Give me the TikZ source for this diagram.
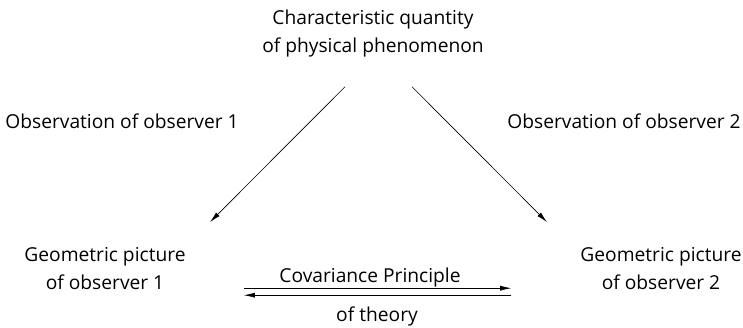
\documentclass[tikz,border=0pt]{standalone}
\usepackage{fontspec}
\setmainfont{Open Sans}
\usetikzlibrary{calc}
\usetikzlibrary{arrows.meta}

\begin{document}
\begin{tikzpicture}[x=1pt,y=-1pt,
    txt/.style={font=\fontsize{19.2}{28.5}\selectfont,inner sep=0pt,align=center},
    arr/.style={-{Latex[length=11pt,width=5pt]},line width=0.65pt}]
    \useasboundingbox (0,0) rectangle (743,327);
    % the quantity on top, seen by both observers
    \node[txt] (quantity) at (373,33.7) {Characteristic quantity\\of physical phenomenon};
    \node[txt] (picA) at (105,268.7) {Geometric picture\\of observer 1};
    \node[txt] (picB) at (661,268.7) {Geometric picture\\of observer 2};
    % labels of the arrows
    \node[txt,anchor=base] (obsA) at (122,128) {Observation of observer 1};
    \node[txt,anchor=base] (obsB) at (624,128) {Observation of observer 2};
    \node[txt,anchor=base] (cov) at (370,282) {Covariance Principle};
    \node[txt,anchor=base] (theory) at (377,321) {of theory};
    % observation arrows
    \draw[arr] ($(quantity.south)+(-28,29)$) -- ($(picA.north)+(105,-25)$);
    \draw[arr] ($(quantity.south)+(39,29)$) -- ($(picB.north)+(-114,-25)$);
    % covariance: one arrow each way
    \draw[arr] ($(picA.east)+(58,19.5)$) -- ($(picB.west)+(-69,19.5)$);
    \draw[arr] ($(picB.west)+(-69,26.5)$) -- ($(picA.east)+(58,26.5)$);
\end{tikzpicture}
\end{document}
